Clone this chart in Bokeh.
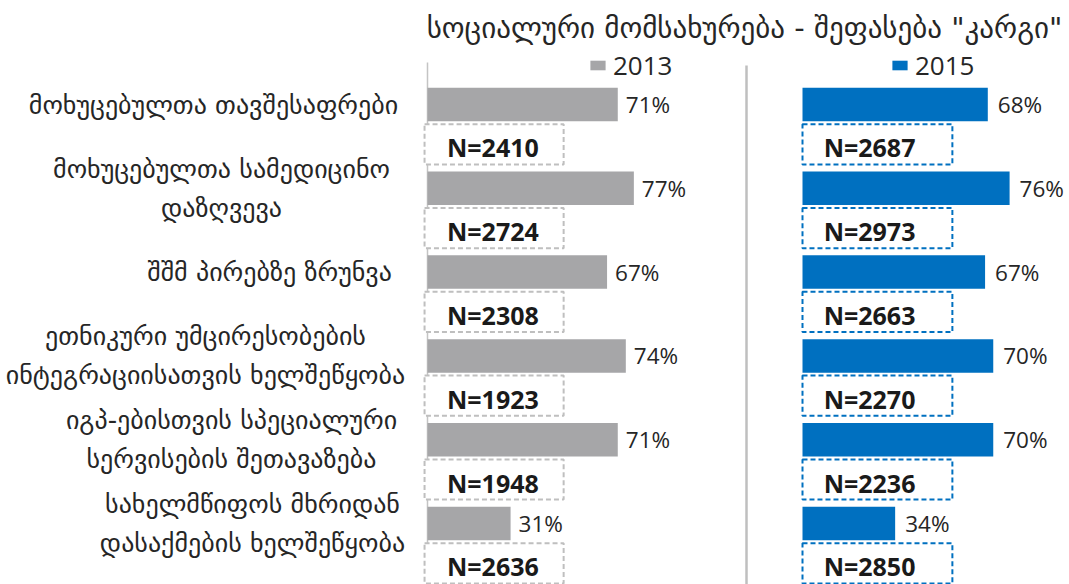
from bokeh.plotting import figure
from bokeh.models import Range1d, ColumnDataSource, Legend, LegendItem
from bokeh.core.properties import value
from bokeh.embed import file_html
from bokeh.resources import INLINE

# ---------------- data ----------------
title_text = 'სოციალური მომსახურება - შეფასება "კარგი"'
categories = [
    "მოხუცებულთა თავშესაფრები",
    "მოხუცებულთა სამედიცინო\nდაზღვევა",
    "შშმ პირებზე ზრუნვა",
    "ეთნიკური უმცირესობების\nინტეგრაციისათვის ხელშეწყობა",
    "იგპ-ებისთვის სპეციალური\nსერვისების შეთავაზება",
    "სახელმწიფოს მხრიდან\nდასაქმების ხელშეწყობა",
]
years = ["2013", "2015"]
good_2013 = [71, 77, 67, 74, 71, 31]
good_2015 = [68, 76, 67, 70, 70, 34]
n_2013 = [2410, 2724, 2308, 1923, 1948, 2636]
n_2015 = [2687, 2973, 2663, 2270, 2236, 2850]

# ---------------- layout constants ----------------
W, H = 1069, 584
PITCH = 83.8          # px per category row
ROW0 = 104            # frame px of first bar centre
y_top = -ROW0 / PITCH
y_bot = y_top + H / PITCH

Z13, S13 = 427.0, 2.68   # frame x of 0% and px per % (2013 panel)
Z15, S15 = 802.0, 2.725  # (2015 panel)

GEO = value("DejaVu Sans")
NUM = value("Open Sans")
TXT = "#262626"
GREY = "#A6A6A8"
BLUE = "#0070C0"
LGREY = "#BFBFBF"

label_cx = [213, 221, 269, 205, 231, 252]   # frame x centres of label blocks

p = figure(width=W, height=H, output_backend="svg", toolbar_location=None,
           x_range=Range1d(0, W), y_range=Range1d(y_bot, y_top),
           x_axis_location=None, y_axis_location=None, min_border=0,
           outline_line_color=None)
p.grid.visible = False
p.extra_x_ranges = {
    "p13": Range1d(-Z13 / S13, (W - Z13) / S13),
    "p15": Range1d(-Z15 / S15, (W - Z15) / S15),
}

idx = list(range(len(categories)))
box_y = [i + 0.475 for i in idx]

src13 = ColumnDataSource(dict(y=idx, v=good_2013, lab=[f"{v}%" for v in good_2013],
                              by=box_y, n=[f"N={n}" for n in n_2013]))
src15 = ColumnDataSource(dict(y=idx, v=good_2015, lab=[f"{v}%" for v in good_2015],
                              by=box_y, n=[f"N={n}" for n in n_2015]))

# axis / separator lines
p.segment(x0=0, x1=0, y0=y_top + 62 / PITCH, y1=y_bot, x_range_name="p13",
          line_color="#C4C4C4", line_width=1.5)
p.segment(x0=746, x1=746, y0=y_top + 65 / PITCH, y1=y_bot, line_color=LGREY, line_width=2.5)

# bars
r13 = p.hbar(y="y", left=0, right="v", height=0.4, source=src13, x_range_name="p13",
             fill_color=GREY, line_color=None)
r15 = p.hbar(y="y", left=0, right="v", height=0.4, source=src15, x_range_name="p15",
             fill_color=BLUE, line_color=None)

# N boxes
p.hbar(y="by", left=-1.1, right=50.8, height=0.48, source=src13, x_range_name="p13",
       fill_color="white", line_color=LGREY, line_width=2, line_dash="5 3")
p.hbar(y="by", left=0, right=55.0, height=0.48, source=src15, x_range_name="p15",
       fill_color="white", line_color=BLUE, line_width=2, line_dash="5 3")

# value labels
p.text(x="v", y="y", text="lab", source=src13, x_range_name="p13", x_offset=8,
       text_font=NUM, text_font_size="22.5px", text_color=TXT,
       text_align="left", text_baseline="middle")
p.text(x="v", y="y", text="lab", source=src15, x_range_name="p15", x_offset=10,
       text_font=NUM, text_font_size="22.5px", text_color=TXT,
       text_align="left", text_baseline="middle")

# N labels
p.text(x=24.4, y="by", text="n", source=src13, x_range_name="p13", y_offset=3,
       text_font=NUM, text_font_size="25px", text_font_style="bold", text_color="#1A1A1A",
       text_align="center", text_baseline="middle")
p.text(x=24.6, y="by", text="n", source=src15, x_range_name="p15", y_offset=3,
       text_font=NUM, text_font_size="25px", text_font_style="bold", text_color="#1A1A1A",
       text_align="center", text_baseline="middle")

# category labels
p.text(x=label_cx, y=idx, text=categories,
       text_font=GEO, text_font_size="26px", text_color=TXT, text_line_height=1.3,
       text_align="center", text_baseline="middle")

# title
p.text(x=[744], y=[y_top + 27 / PITCH], text=[title_text],
       text_font=GEO, text_font_size="29px", text_color=TXT,
       text_align="center", text_baseline="middle")

# legends
for r, lab, lx in ((r13, years[0], 588), (r15, years[1], 890)):
    lg = Legend(items=[LegendItem(label=lab, renderers=[r])], location=(lx, 501),
                padding=0, margin=0, spacing=0, border_line_color=None,
                background_fill_alpha=0, glyph_width=19, glyph_height=12,
                label_standoff=6, label_text_font="Open Sans",
                label_text_font_size="26px", label_text_color=TXT)
    p.add_layout(lg)

open("out.html", "w").write(file_html(p, INLINE))
